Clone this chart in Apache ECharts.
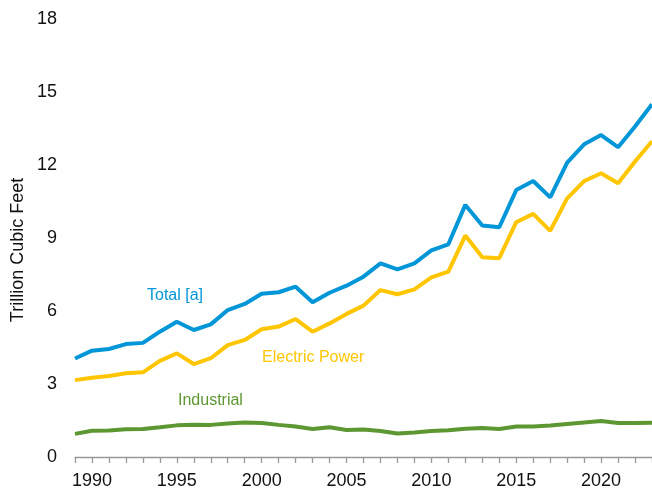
<!DOCTYPE html>
<html>
<head>
<meta charset="utf-8">
<script src="https://cdn.jsdelivr.net/npm/echarts@6/dist/echarts.min.js"></script>
<style>
html, body { margin: 0; padding: 0; background: #fff; }
#main { width: 652px; height: 497px; }
</style>
</head>
<body>
<div id="main"></div>
<script>
// 年份
var years = [];
for (var y = 1989; y <= 2023; y++) years.push(String(y));

// 数据 (万亿立方英尺)
var total = [4.05, 4.37, 4.44, 4.64, 4.69, 5.15, 5.56, 5.22, 5.45, 6.04, 6.29, 6.71,
	6.77, 7.0, 6.36, 6.75, 7.04, 7.41, 7.96, 7.71, 7.96, 8.49, 8.74, 10.36, 9.51,
	9.44, 10.97, 11.34, 10.67, 12.1, 12.85, 13.23, 12.73, 13.58, 14.5];
var electricPower = [3.16, 3.26, 3.33, 3.44, 3.48, 3.95, 4.26, 3.82, 4.06, 4.6, 4.81, 5.25,
	5.36, 5.67, 5.15, 5.49, 5.88, 6.22, 6.86, 6.69, 6.89, 7.38, 7.62, 9.1, 8.21,
	8.17, 9.65, 9.99, 9.29, 10.63, 11.34, 11.66, 11.25, 12.14, 12.98];
var industrial = [0.95, 1.08, 1.09, 1.14, 1.15, 1.22, 1.3, 1.33, 1.32, 1.38, 1.42, 1.4,
	1.32, 1.25, 1.15, 1.22, 1.11, 1.13, 1.07, 0.97, 1.01, 1.07, 1.1, 1.16, 1.19,
	1.15, 1.25, 1.25, 1.29, 1.36, 1.42, 1.48, 1.4, 1.4, 1.41];
var yTicks = [0, 3, 6, 9, 12, 15, 18];

var colors = { total: '#0096d7', electric: '#ffc600', industrial: '#5d9732' };
var font = 'Arial, "Liberation Sans", sans-serif';

var myChart = echarts.init(document.getElementById('main'));
var option = {
	animation: false,
	grid: { left: 75, right: 0, top: 19, bottom: 40 },
	xAxis: {
		type: 'category',
		data: years,
		boundaryGap: false,
		axisLine: { lineStyle: { color: '#999', width: 1.3 } },
		axisTick: { interval: 0, length: 6, lineStyle: { color: '#999', width: 1.3 } },
		axisLabel: {
			interval: function (i, v) { return Number(v) % 5 === 0; },
			margin: 15,
			fontSize: 18,
			color: '#111',
			fontFamily: font
		},
		splitLine: { show: false }
	},
	yAxis: {
		type: 'value',
		min: yTicks[0],
		max: yTicks[yTicks.length - 1],
		interval: 3,
		axisLine: { show: false },
		axisTick: { show: false },
		splitLine: { show: false },
		axisLabel: { margin: 18, fontSize: 18, color: '#111', fontFamily: font }
	},
	series: [{
		name: 'Total [a]',
		type: 'line',
		data: total,
		symbol: 'none',
		lineStyle: { color: colors.total, width: 4 }
	}, {
		name: 'Electric Power',
		type: 'line',
		data: electricPower,
		symbol: 'none',
		lineStyle: { color: colors.electric, width: 4 }
	}, {
		name: 'Industrial',
		type: 'line',
		data: industrial,
		symbol: 'none',
		lineStyle: { color: colors.industrial, width: 4 }
	}],
	graphic: [{
		type: 'text', x: 18, y: 250, rotation: Math.PI / 2,
		style: { text: 'Trillion Cubic Feet', fontSize: 18, fill: '#111', fontFamily: font, align: 'center', verticalAlign: 'middle' }
	}, {
		type: 'text', x: 147, y: 296,
		style: { text: 'Total [a]', fontSize: 16, fill: colors.total, fontFamily: font, align: 'left', verticalAlign: 'middle' }
	}, {
		type: 'text', x: 262, y: 358,
		style: { text: 'Electric Power', fontSize: 16, fill: colors.electric, fontFamily: font, align: 'left', verticalAlign: 'middle' }
	}, {
		type: 'text', x: 178, y: 401,
		style: { text: 'Industrial', fontSize: 16, fill: colors.industrial, fontFamily: font, align: 'left', verticalAlign: 'middle' }
	}]
};
myChart.setOption(option);
</script>
</body>
</html>
